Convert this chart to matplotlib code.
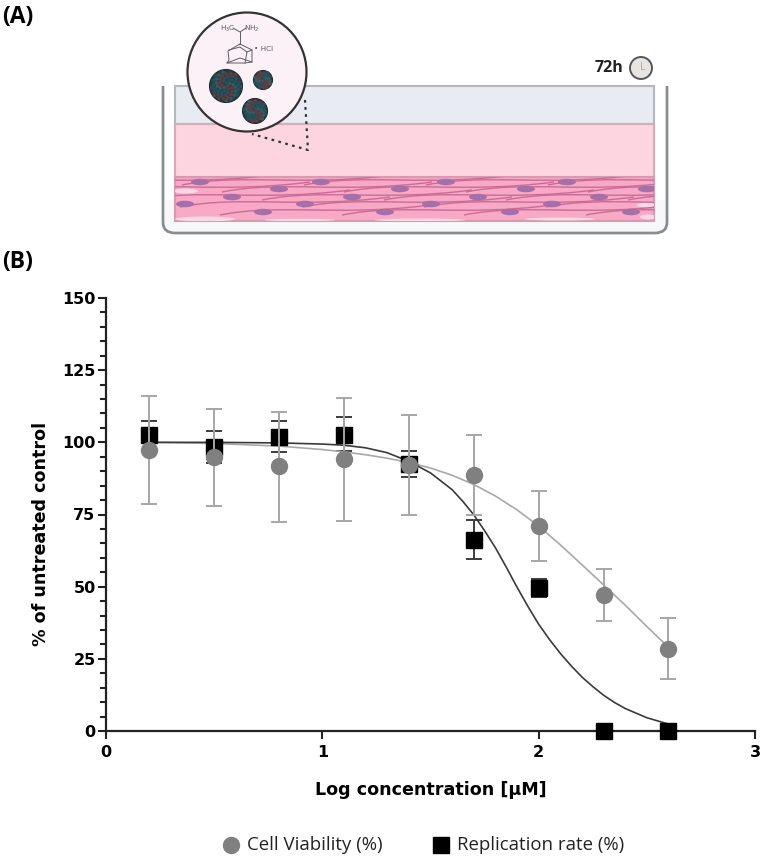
import numpy as np
import matplotlib
matplotlib.use("Agg")
import matplotlib.pyplot as plt
from matplotlib.patches import Circle, Ellipse, PathPatch, Rectangle
from matplotlib.path import Path

W, H = 762, 859

# chart values
log_conc = [0.2, 0.5, 0.8, 1.1, 1.4, 1.7, 2.0, 2.3, 2.6]
viability = [97.5, 95.0, 91.7, 94.3, 92.3, 88.7, 71.0, 47.0, 28.5]
viability_hi = [116.0, 111.5, 110.5, 115.5, 109.3, 102.5, 83.0, 56.0, 39.0]
viability_lo = [78.8, 78.0, 72.5, 72.7, 75.0, 75.0, 59.0, 38.0, 18.0]
replication = [102.5, 98.5, 102.0, 102.7, 92.5, 66.3, 49.7, 0.0, 0.0]
replication_hi = [107.5, 104.0, 107.5, 108.8, 97.0, 73.0, 52.8, 0.0, 0.0]
replication_lo = [97.5, 93.0, 96.8, 97.0, 88.0, 59.5, 46.5, 0.0, 0.0]

# fitted curves, traced
fit_x_gray = [0.2, 0.5, 0.8, 1.0, 1.1, 1.2, 1.3, 1.4, 1.5, 1.6, 1.7, 1.8, 1.9, 2.0, 2.1, 2.2, 2.3, 2.4, 2.5, 2.6]
fit_y_gray = [100, 99.6, 98.7, 97.5, 96.7, 95.7, 94.5, 93.0, 91.1, 88.6, 85.4, 81.4, 76.6, 71.0, 64.5, 57.6, 50.6, 43.6, 36.2, 29.0]
fit_x_black = [0.2, 0.5, 0.8, 1.0, 1.1, 1.2, 1.3, 1.4, 1.5, 1.6, 1.65, 1.7, 1.75, 1.8, 1.85, 1.9, 1.95, 2.0, 2.05, 2.1, 2.15, 2.2, 2.25, 2.3, 2.35, 2.4, 2.5, 2.6]
fit_y_black = [100, 100, 99.8, 99.4, 99.0, 98.1, 96.4, 93.4, 89.4, 83.6, 79.5, 74.9, 69.4, 63.5, 56.8, 49.8, 43.2, 37.0, 31.7, 26.9, 22.6, 18.7, 15.4, 12.4, 9.9, 7.8, 4.6, 2.4]

y_ticks = [0, 25, 50, 75, 100, 125, 150]
x_ticks = [0, 1, 2, 3]

# nuclei of the cell layer in the sketch
nuclei_x = [200, 321, 446, 567, 279, 400, 526, 647, 232, 352, 478, 599, 185, 305, 431, 552, 263, 385, 510, 631]
nuclei_y = [182] * 4 + [189] * 4 + [197] * 4 + [204] * 4 + [212] * 4
strand_rows = [178, 185, 193, 200, 208]

fig = plt.figure(figsize=(W / 100, H / 100), dpi=100)

# whole figure axes in pixels, for panel A and the labels
sk = fig.add_axes([0, 0, 1, 1])
sk.set_xlim(0, W)
sk.set_ylim(H, 0)
sk.axis("off")

sk.text(2, 17, "(A)", fontsize=16.5, fontweight="bold", family="Open Sans", va="center")
sk.text(2, 262, "(B)", fontsize=16.5, fontweight="bold", family="Open Sans", va="center")

# well
sk.add_patch(Rectangle((165, 200), 500, 31, fc="#f7f8f9", ec="none", zorder=0))
sk.add_patch(Rectangle((175, 86), 479, 135, fc="#f7f8fa", ec="none", zorder=1))
well = Path([(163, 86), (163, 222), (163, 233), (175, 233), (655, 233), (667, 233), (667, 222), (667, 86)],
            [Path.MOVETO, Path.LINETO, Path.CURVE3, Path.CURVE3, Path.LINETO, Path.CURVE3, Path.CURVE3, Path.LINETO])
sk.add_patch(PathPatch(well, fc="none", ec="#8a8d90", lw=2, zorder=2))
sk.add_patch(Rectangle((175, 86), 479, 38, fc="#e8ecf2", ec="#b4b9bc", lw=1.5, zorder=2))
sk.add_patch(Rectangle((175, 124), 479, 53, fc="#fcd5e0", ec="#d8abb5", lw=1.5, zorder=2))
layer = Rectangle((175, 177), 479, 44, fc="#f7a9c6", ec="#d79ab0", lw=1.5, zorder=3)
sk.add_patch(layer)

# pale gaps between the cells
gaps = [(186, 191, 24, 5), (205, 219, 60, 5), (300, 220, 70, 2.5), (420, 220, 90, 3), (560, 219, 70, 3), (646, 205, 18, 5), (648, 217, 16, 5)]
for gx, gy, gw, gh in gaps:
    g = Ellipse((gx, gy), gw, gh, fc="#fbd9e4", ec="none", zorder=4)
    sk.add_patch(g)
    g.set_clip_path(layer)

# fibres
for row, y in enumerate(strand_rows):
    for sx in range(60 + row * 40, 660, 122):
        sp = PathPatch(Path([(sx, y + 7), (sx + 60, y - 5), (sx + 120, y + 9), (sx + 210, y - 3)],
                            [Path.MOVETO, Path.CURVE4, Path.CURVE4, Path.CURVE4]),
                       fc="none", ec="#cb6c96", lw=1.0, zorder=5)
        sk.add_patch(sp)
        sp.set_clip_path(layer)

for nx, ny in zip(nuclei_x, nuclei_y):
    n = Ellipse((nx, ny), 18, 6.5, fc="#a56fa8", ec="none", zorder=6)
    sk.add_patch(n)
    n.set_clip_path(layer)

# zoom lens and dotted pointer
sk.plot([305, 308, 252], [100, 150, 134], ls=(0, (1.2, 2)), color="#333333", lw=1.6, zorder=7)
sk.add_patch(Circle((247, 72), 59.5, fc="#fdf1f8", ec="#333333", lw=1.6, zorder=8))

# particles
for cx, cy, r in [(226, 86, 16.5), (263, 80, 9.5), (255, 111, 12.5)]:
    sk.add_patch(Circle((cx, cy), r, fc="#243f47", ec="#1e2b30", lw=0.8, zorder=9))
    n_dots = int(r * 3.5)
    for i in range(n_dots):
        rr = r * 0.92 * np.sqrt((i + 0.5) / n_dots)
        a = i * 2.39996
        col = ["#8a3a2c", "#3f6478", "#1e5f5a", "#4c4a62"][i % 4]
        sk.add_patch(Circle((cx + rr * np.cos(a), cy + rr * np.sin(a)), 1.7, fc=col, ec="none", alpha=0.7, zorder=10))

# the small molecule drawing
mol = "#5d5d62"
mol_lines = [
    ([233, 240, 246], [28, 32, 28]), ([240, 240], [32, 44]),
    ([240, 228, 229, 227, 240, 252, 252, 240], [44, 51, 60, 63, 58, 62, 50, 44]),
    ([227, 245, 252], [63, 63, 62]), ([229, 240, 247, 245], [50, 47, 52, 63]), ([247, 252], [52, 50]),
]
for mx, my in mol_lines:
    sk.plot(mx, my, color=mol, lw=0.7, zorder=9)
sk.text(228, 29, "H$_3$C", fontsize=5.2, color=mol, ha="center", va="center", zorder=9)
sk.text(252, 29, "NH$_2$", fontsize=5.2, color=mol, ha="center", va="center", zorder=9)
sk.text(264, 49, "• HCl", fontsize=5.2, color=mol, ha="center", va="center", zorder=9)

# clock
sk.text(609, 68, "72h", fontsize=11.5, fontweight="bold", family="Open Sans", color="#222222", ha="center", va="center")
sk.add_patch(Circle((641, 68), 11, fc="#e8e4df", ec="#55565a", lw=1.4, zorder=3))
sk.plot([641, 641, 644], [62, 69, 69], color="#b5b2ac", lw=0.7, zorder=4)

# panel B
ax = fig.add_axes([106 / W, 1 - 731 / H, (755 - 106) / W, (731 - 298) / H])
ax.patch.set_alpha(0)
ax.set_xlim(0, 3)
ax.set_ylim(0, 150)

gray = "#808080"
light = "#a6a6a6"
dark = "#3c3c3c"

ax.plot(fit_x_gray, fit_y_gray, color="#a8a8a8", lw=1.2, zorder=3)
ax.plot(fit_x_black, fit_y_black, color="#3a3a3a", lw=1.2, zorder=3)

r = np.array(replication)
ax.errorbar(log_conc, replication, yerr=[r - np.array(replication_lo), np.array(replication_hi) - r], fmt="none",
            ecolor=dark, elinewidth=1.4, capsize=5.8, capthick=1.4, zorder=2)
ax.plot(log_conc, replication, ls="none", marker="s", ms=11.5, color="black", clip_on=False, zorder=5)
v = np.array(viability)
ax.errorbar(log_conc, viability, yerr=[v - np.array(viability_lo), np.array(viability_hi) - v], fmt="none",
            ecolor=light, elinewidth=1.4, capsize=5.8, capthick=1.4, zorder=6)
ax.plot(log_conc, viability, ls="none", marker="o", ms=11.5, color=gray, clip_on=False, zorder=7)

for s in ["top", "right"]:
    ax.spines[s].set_visible(False)
for s in ["left", "bottom"]:
    ax.spines[s].set_linewidth(1.6)
    ax.spines[s].set_color("#222222")

ax.set_xticks(x_ticks)
ax.set_yticks(y_ticks)
ax.set_yticks(np.arange(0, 151, 5), minor=True)
ax.tick_params(axis="both", which="major", length=6, width=1.5, labelsize=11.5, color="#222222", pad=1.5)
ax.tick_params(axis="x", which="major", pad=4)
ax.tick_params(axis="y", which="minor", length=4, width=1.5, color="#222222")
for t in ax.get_xticklabels() + ax.get_yticklabels():
    t.set_fontweight("bold")
ax.set_xlabel("Log concentration [µM]", fontsize=12.6, fontweight="bold", labelpad=15)
ax.set_ylabel("% of untreated control", fontsize=12.6, fontweight="bold", labelpad=9, y=0.455)

# legend drawn by hand to sit at the same spots
sk.plot([231], [845], marker="o", ms=11.5, color=gray, ls="none")
sk.text(247, 845, "Cell Viability (%)", fontsize=13.4, family="Open Sans", va="center", color="#222222")
sk.plot([441], [845], marker="s", ms=11, color="black", ls="none")
sk.text(457, 845, "Replication rate (%)", fontsize=13.4, family="Open Sans", va="center", color="#222222")

fig.savefig("out.png", dpi=100)
